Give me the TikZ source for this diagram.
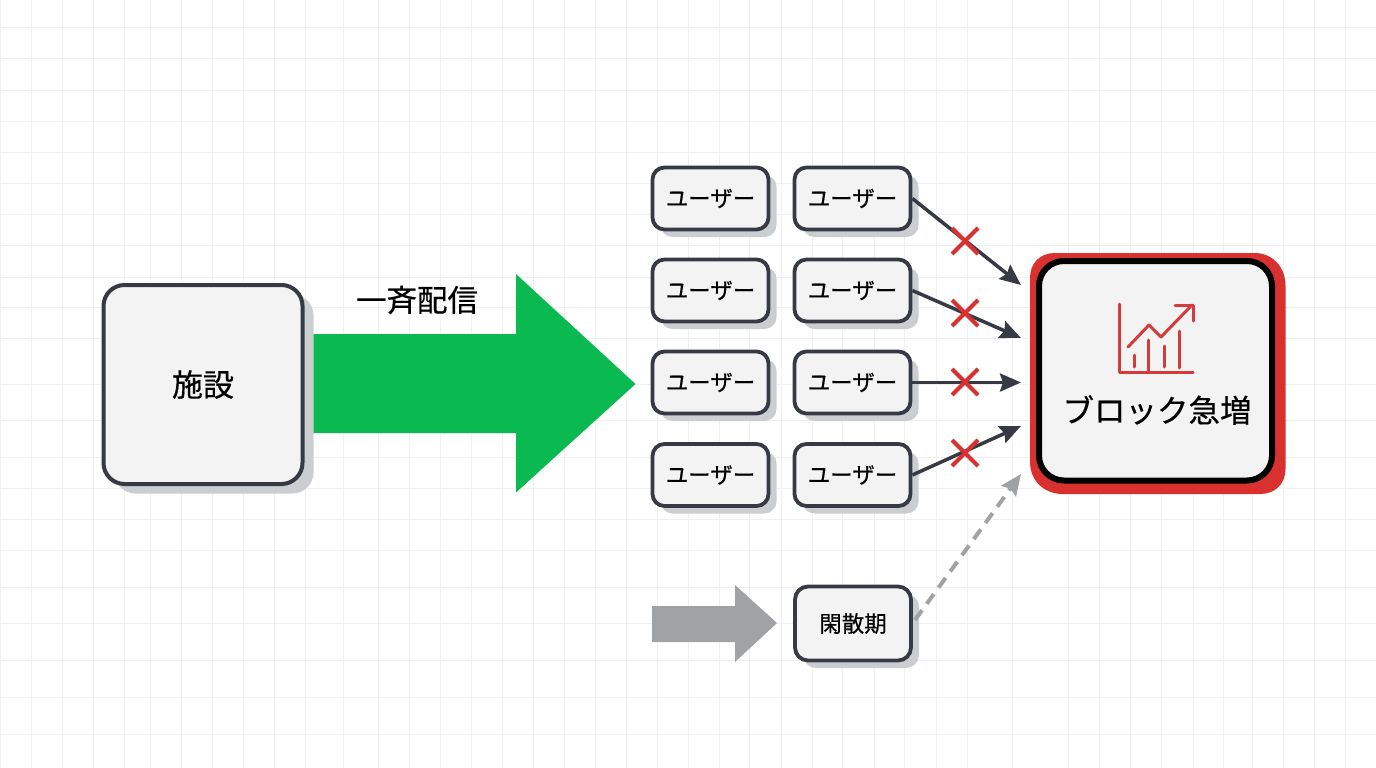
\documentclass[tikz,border=0pt]{standalone}
\usepackage{fontspec}
\setmainfont{Noto Sans CJK JP}[FakeBold=0.5]
\usetikzlibrary{arrows.meta,shadows}
\definecolor{gridc}{HTML}{F0F0F2}
\definecolor{boxfill}{HTML}{F3F3F4}
\definecolor{edgec}{HTML}{363A45}
\definecolor{shadowc}{HTML}{CBCED1}
\definecolor{greenc}{HTML}{0AB950}
\definecolor{greyc}{HTML}{A0A3A6}
\definecolor{redc}{HTML}{D8312F}
\definecolor{iconc}{HTML}{D63B3B}
\tikzset{
  gridline/.style={draw=gridc,line width=1pt},
  userbox/.style={draw=edgec,fill=boxfill,line width=3.8pt,rounded corners=12pt,minimum width=116pt,minimum height=62pt,inner sep=0pt,font=\fontsize{22.5}{24}\selectfont,drop shadow={shadow xshift=8pt,shadow yshift=-7.5pt,opacity=1,fill=shadowc}},
  offbox/.style={userbox,minimum height=74pt,rounded corners=13pt},
  sourcebox/.style={draw=edgec,fill=boxfill,line width=4pt,rounded corners=21pt,minimum width=199pt,minimum height=199pt,inner sep=0pt,font=\fontsize{31}{33}\selectfont,drop shadow={shadow xshift=11pt,shadow yshift=-9.5pt,opacity=1,fill=shadowc}},
  alertbox/.style={draw=black,fill=boxfill,line width=6pt,rounded corners=25pt,minimum width=233pt,minimum height=219.5pt,inner sep=0pt},
  flow/.style={draw=edgec,line width=3.5pt,-{Stealth[length=21pt,width=18pt,inset=3pt]}},
  lazyflow/.style={draw=greyc,line width=4pt,dash pattern=on 12pt off 8pt,-{Stealth[length=21pt,width=18pt,inset=3pt]}},
  crossmark/.style={draw=redc,line width=4.2pt},
  iconline/.style={draw=iconc,line width=3pt,line cap=round,line join=round},
  labeltext/.style={inner sep=0pt,font=\fontsize{30.5}{33}\selectfont}
}
\begin{document}
\begin{tikzpicture}[x=1pt,y=-1pt]
\useasboundingbox (0,0) rectangle (1376,768);
\fill[white] (0,0) rectangle (1376,768);
\foreach \gx in {0.5,31,62,93,124,150,181,212,243,274,305,343,378,409,440,471,502,533,564,595,626,657,688,719,749,781,812,842,874,904,936,967,1012,1068,1099,1130,1161,1193,1223,1252,1283,1314,1345}
  \draw[gridline] (\gx,0) -- (\gx,768);
\foreach \gy in {28,59,90,121,152,183,214,245,277,307,338,384,420,457,488,519,550,587,623,660,697,734}
  \draw[gridline] (0,\gy) -- (1376,\gy);

% big arrows
\fill[greenc] (313,334) -- (516,334) -- (516,274) -- (635.5,384) -- (516,492.5) -- (516,433) -- (313,433) -- cycle;
\fill[greyc] (652,606) -- (735,606) -- (735,585) -- (777,623) -- (735,662) -- (735,642) -- (652,642) -- cycle;

% nodes
\node[sourcebox] (src) at (203,384.5) {施設};
\node[labeltext] (bulk) at (417,300) {一斉配信};
\foreach \nm/\cy in {a/198.5,b/290.5,c/382.5,d/475}{
  \node[userbox] (u\nm1) at (710.5,\cy) {ユーザー};
  \node[userbox] (u\nm2) at (852.5,\cy) {ユーザー};
}
\node[offbox] (off) at (853,623.5) {閑散期};

% alert box
\fill[redc] (1055,253) -- (1256,253) .. controls (1274,254) and (1285.5,268) .. (1285.5,286)
  -- (1285.5,469) .. controls (1285.5,484) and (1275,494) .. (1260,494)
  -- (1061,494) .. controls (1043,493) and (1030,480) .. (1030,462)
  -- (1030,278) .. controls (1030,263) and (1040,253) .. (1055,253) -- cycle;
\node[alertbox] (alert) at (1155.5,370.75) {};
\node[labeltext,font=\fontsize{31.5}{33}\selectfont] (alertlabel) at (1157,410) {ブロック急増};

% connector ends
\coordinate (t1) at (1021,285);
\coordinate (t2) at (1021,338);
\coordinate (t3) at (1021,382.5);
\coordinate (t4) at (1021,426);
\coordinate (t5) at (1021,474);
\coordinate (s5) at (915,620);
\draw[flow] (ua2.east) -- (t1);
\draw[flow] (ub2.east) -- (t2);
\draw[flow] (uc2.east) -- (t3);
\draw[flow] (ud2.east) -- (t4);
\draw[lazyflow] (s5) -- (t5);

% crosses
\foreach \cy in {241,313,382,453}{
  \draw[crossmark] (952,\cy-13) -- (978,\cy+13);
  \draw[crossmark] (978,\cy-13) -- (952,\cy+13);
}

% icon
\draw[iconline] (1119,304) -- (1119,372) -- (1193,372);
\draw[iconline] (1134,355) -- (1134,367);
\draw[iconline] (1148,340) -- (1148,372);
\draw[iconline] (1164,346) -- (1164,367);
\draw[iconline] (1179,331) -- (1179,368);
\draw[iconline] (1128,347) -- (1149,325) -- (1161,337) -- (1192,305);
\draw[iconline] (1175,305) -- (1193,305) -- (1193,321);
\end{tikzpicture}
\end{document}
